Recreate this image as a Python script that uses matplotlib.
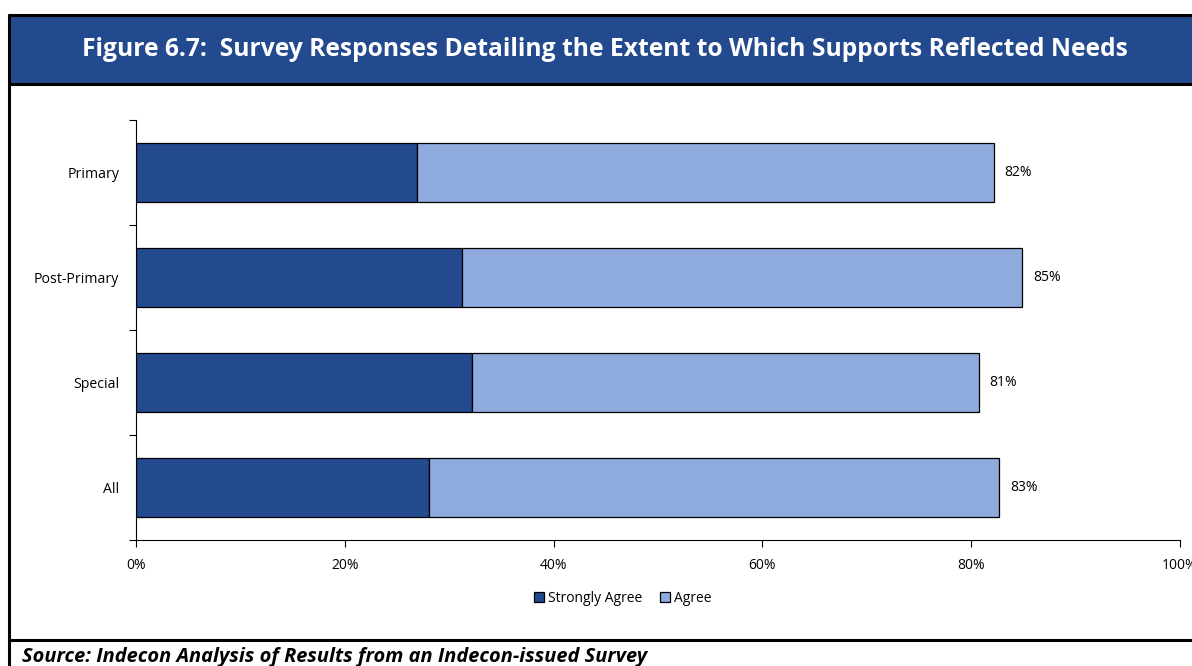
import matplotlib
matplotlib.use("Agg")
import matplotlib.pyplot as plt
from matplotlib.lines import Line2D
from matplotlib.patches import Rectangle, Patch
import numpy as np

plt.rcParams['font.family'] = ['Open Sans', 'DejaVu Sans']

categories = ["Primary", "Post-Primary", "Special", "All"]
strongly_agree = [26.9, 31.2, 32.2, 28.1]
agree = [55.3, 53.7, 48.5, 54.6]
total_labels = ["82%", "85%", "81%", "83%"]
series_names = ["Strongly Agree", "Agree"]
xticks = [0, 20, 40, 60, 80, 100]
xtick_labels = ["0%", "20%", "40%", "60%", "80%", "100%"]
title = "Figure 6.7:  Survey Responses Detailing the Extent to Which Supports Reflected Needs"
source = "Source: Indecon Analysis of Results from an Indecon-issued Survey"

DARK = "#234A8E"
LIGHT = "#8FAADC"

W, H = 1192, 666
fig = plt.figure(figsize=(W / 100, H / 100), dpi=100)

def fx(px):
    return px / W

def fy(py):
    return 1 - py / H

# Title band and frame
fig.patches.append(Rectangle((fx(9), fy(83)), 1.0, fy(15) - fy(83), transform=fig.transFigure,
                             facecolor=DARK, edgecolor='none', zorder=0))
for xs, ys in [([fx(8), 1.0], [fy(15), fy(15)]),
               ([fx(9), fx(9)], [fy(14), 0.0]),
               ([fx(8), 1.0], [fy(83.5), fy(83.5)]),
               ([fx(8), 1.0], [fy(640), fy(640)])]:
    fig.lines.append(Line2D(xs, ys, transform=fig.transFigure, color='black', lw=2.2,
                            solid_capstyle='butt'))

fig.text(fx(605), fy(50), title, color='white', fontsize=17.7, fontweight='bold',
         ha='center', va='center')
fig.text(fx(22), fy(657), source, color='black', fontsize=14.4, fontweight='bold',
         fontstyle='italic', ha='left', va='center')

ax = fig.add_axes([fx(136), fy(540), fx(1180) - fx(136), fy(120) - fy(540)])
y = np.arange(len(categories))
h = 0.571
ax.barh(y, strongly_agree, height=h, color=DARK, edgecolor='black', linewidth=0.9,
        label=series_names[0], zorder=3)
ax.barh(y, agree, left=strongly_agree, height=h, color=LIGHT, edgecolor='black', linewidth=0.9,
        label=series_names[1], zorder=3)
for yi, s, a, lab in zip(y, strongly_agree, agree, total_labels):
    ax.text(s + a + 1.0, yi, lab, va='center', ha='left', fontsize=10, color='black')

ax.set_xlim(0, 100)
ax.set_ylim(len(categories) - 0.5, -0.5)
ax.set_xticks(xticks)
ax.set_xticklabels(xtick_labels, fontsize=10)
ax.set_yticks(y)
ax.set_yticklabels(categories, fontsize=10.2)
ax.set_yticks(np.arange(len(categories) + 1) - 0.5, minor=True)
ax.tick_params(axis='y', which='major', length=0, pad=12)
ax.tick_params(axis='y', which='minor', length=5, width=0.8, color='black')
ax.tick_params(axis='x', which='major', length=5, width=0.8, color='black', pad=8)
for side in ['top', 'right']:
    ax.spines[side].set_visible(False)
ax.spines['left'].set_color('black')
ax.spines['bottom'].set_color('black')
ax.spines['left'].set_linewidth(0.8)
ax.spines['bottom'].set_linewidth(0.8)

handles = [Patch(facecolor=DARK, edgecolor='black', linewidth=0.9, label=series_names[0]),
           Patch(facecolor=LIGHT, edgecolor='black', linewidth=0.9, label=series_names[1])]
fig.legend(handles=handles, loc='center', bbox_to_anchor=(fx(623), fy(598)), ncol=2,
           frameon=False, fontsize=10, handlelength=0.7, handleheight=0.7,
           handletextpad=0.3, columnspacing=1.3)

fig.savefig("out.png", dpi=100)
